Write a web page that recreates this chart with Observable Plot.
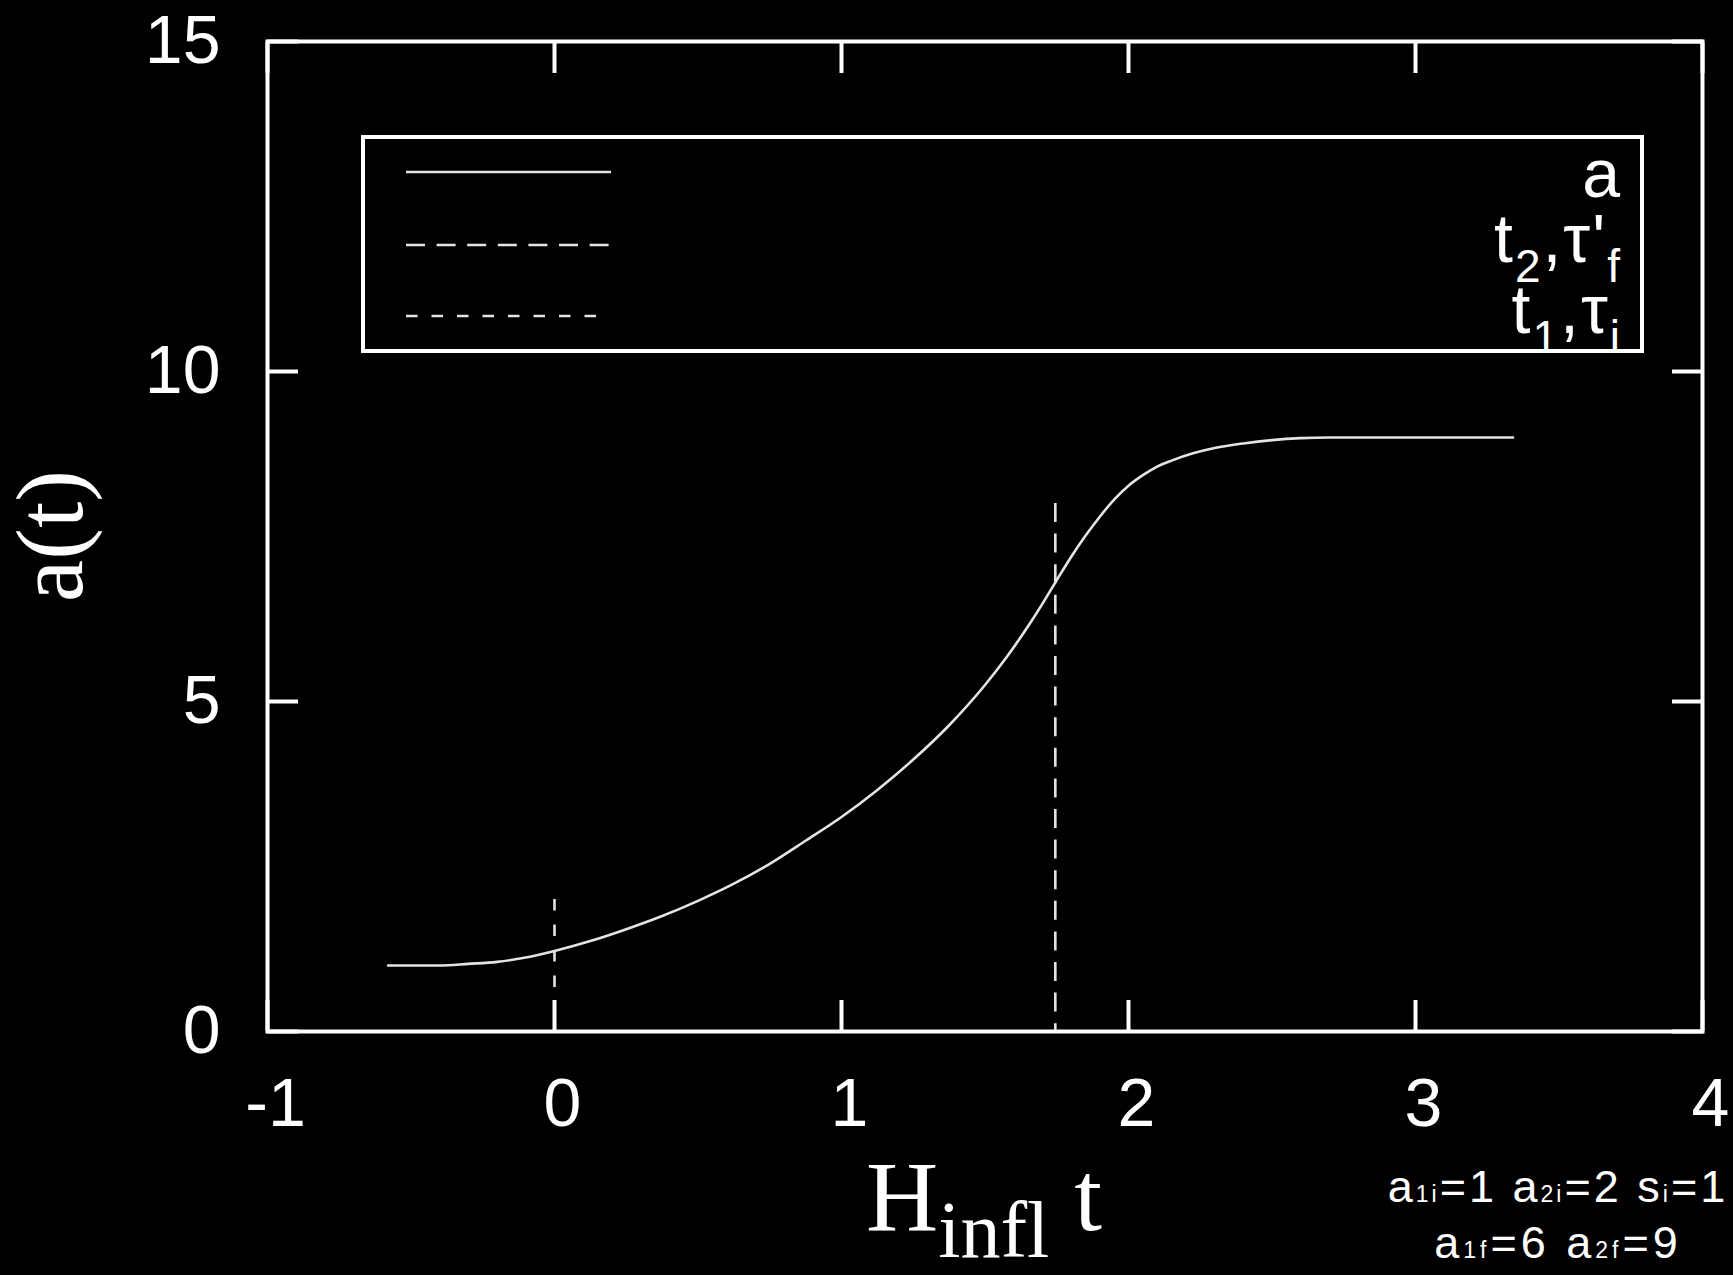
<!DOCTYPE html>
<html><head><meta charset="utf-8">
<script src="https://cdn.jsdelivr.net/npm/d3@7"></script>
<script src="https://cdn.jsdelivr.net/npm/@observablehq/plot@0.6"></script>
<style>
html,body{margin:0;padding:0;background:#000;overflow:hidden;}
</style></head><body>
<div id="chart"></div>
<script>
// ---- data ----
const timeValues = [-0.58, -0.5, -0.4, -0.3, -0.2, -0.1, 0, 0.125, 0.25, 0.375, 0.5, 0.625, 0.75, 0.875, 1.0, 1.125, 1.25, 1.375, 1.5, 1.575, 1.65, 1.7, 1.75, 1.8, 1.85, 1.9, 1.95, 2.0, 2.05, 2.1, 2.15, 2.225, 2.3, 2.4, 2.5, 2.6, 2.7, 2.9, 3.1, 3.34];
const scaleFactorValues = [1.00, 1.00, 1.00, 1.025, 1.055, 1.12, 1.22, 1.37, 1.55, 1.75, 1.98, 2.24, 2.54, 2.89, 3.25, 3.66, 4.12, 4.64, 5.25, 5.67, 6.14, 6.48, 6.84, 7.19, 7.51, 7.80, 8.06, 8.27, 8.43, 8.56, 8.65, 8.76, 8.84, 8.91, 8.96, 8.99, 9.00, 9.00, 9.00, 9.00];
const markerTimes = [0, 1.745];
const markerHeights = [2, 8];
const legendLabels = ["a", "t2,τ'f", "t1,τi"];
const xTicks = [-1, 0, 1, 2, 3, 4];
const yTicks = [0, 5, 10, 15];
const captionLine1 = [["a",""],["1i","s"],["=1 a",""],["2i","s"],["=2 s",""],["i","s"],["=1",""]];
const captionLine2 = [["a",""],["1f","s"],["=6 a",""],["2f","s"],["=9",""]];

const curve = timeValues.map((t, i) => ({t, a: scaleFactorValues[i]}));
const markers = markerTimes.map((t, i) => ({t, top: markerHeights[i]}));

const W = 1733, H = 1275, mL = 267, mR = 31, mT = 41, mB = 244;
const sans = "'Liberation Sans', Arial, Helvetica, sans-serif";
const serif = "'Liberation Serif', 'Times New Roman', serif";
const lineColor = "#e4e4e4";
const dashLong = "19,11.6";
const dashShort = "11.5,14";

const plot = Plot.plot({
  width: W, height: H,
  marginLeft: mL, marginRight: mR, marginTop: mT, marginBottom: mB,
  style: {background: "#000", color: "#fff", fontFamily: sans, fontSize: "68px", overflow: "visible"},
  x: {domain: [-1, 4], axis: null},
  y: {domain: [0, 15], axis: null},
  marks: [
    Plot.line(curve, {x: "t", y: "a", stroke: lineColor, strokeWidth: 2.6, curve: "monotone-x"}),
    Plot.ruleX([markers[0]], {x: "t", y1: "top", y2: 0, stroke: lineColor, strokeWidth: 2.6, strokeDasharray: dashShort}),
    Plot.ruleX([markers[1]], {x: "t", y1: "top", y2: 0, stroke: lineColor, strokeWidth: 2.6, strokeDasharray: dashLong}),
    Plot.axisX(xTicks, {anchor: "bottom", tickSize: -31, strokeWidth: 4, tickFormat: () => "", label: null}),
    Plot.axisX(xTicks, {anchor: "top", tickSize: -31, strokeWidth: 4, tickFormat: () => "", label: null}),
    Plot.axisY(yTicks, {anchor: "left", tickSize: -31, strokeWidth: 4, tickFormat: () => "", label: null}),
    Plot.axisY(yTicks, {anchor: "right", tickSize: -31, strokeWidth: 4, tickFormat: () => "", label: null}),
    Plot.axisX(xTicks, {anchor: "bottom", tickSize: 0, tickPadding: 46, dx: 8, tickFormat: d => String(d), label: null, fontSize: 68}),
    Plot.axisY(yTicks, {anchor: "left", tickSize: 0, tickPadding: 47, tickFormat: d => String(d), label: null, fontSize: 68}),
    Plot.frame({stroke: "#fff", strokeWidth: 4})
  ]
});
document.getElementById("chart").appendChild(plot);

const svg = d3.select(plot);

// ---- legend box ----
const lg = svg.append("g");
lg.append("rect").attr("x", 363).attr("y", 137).attr("width", 1279).attr("height", 214)
  .attr("fill", "#000").attr("stroke", "#fff").attr("stroke-width", 4);
const sampleY = [172, 245, 316];
const sampleDash = [null, dashLong, dashShort];
const sampleEnd = [611, 611, 600];
sampleY.forEach((y, i) => {
  const l = lg.append("line").attr("x1", 406).attr("x2", sampleEnd[i]).attr("y1", y).attr("y2", y)
    .attr("stroke", lineColor).attr("stroke-width", 2.6);
  if (sampleDash[i]) l.attr("stroke-dasharray", sampleDash[i]);
});
const textBase = [197, 262, 333];
function legendText(y, parts) {
  const t = lg.append("text").attr("x", 1622).attr("y", y).attr("text-anchor", "end")
    .attr("fill", "#fff").attr("font-family", sans).attr("font-size", 68)
    .attr("letter-spacing", 2);
  let shifted = 0;
  parts.forEach(([s, kind]) => {
    const sp = t.append("tspan").text(s);
    if (kind === "sub") { sp.attr("font-size", 46).attr("dy", 20 - shifted); shifted = 20; }
    else { if (shifted) sp.attr("dy", -shifted); shifted = 0; }
  });
}
legendText(textBase[0], [[legendLabels[0], ""]]);
legendText(textBase[1], [["t", ""], ["2", "sub"], [",τ'", ""], ["f", "sub"]]);
legendText(textBase[2], [["t", ""], ["1", "sub"], [",τ", ""], ["i", "sub"]]);

// ---- axis titles ----
svg.append("text").attr("transform", "translate(82,536) rotate(-90)")
  .attr("text-anchor", "middle").attr("fill", "#fff")
  .attr("font-family", serif).attr("font-size", 95).text("a(t)");

const xl = svg.append("text").attr("x", 984).attr("y", 1230).attr("text-anchor", "middle")
  .attr("fill", "#fff").attr("font-family", serif).attr("font-size", 100);
xl.append("tspan").text("H");
xl.append("tspan").attr("font-size", 80).attr("dy", 27).text("infl");
xl.append("tspan").attr("dy", -27).text(" t");

// ---- caption ----
function caption(y, parts, spacing) {
  const t = svg.append("text").attr("x", 1558).attr("y", y).attr("text-anchor", "middle")
    .attr("fill", "#fff").attr("font-family", sans).attr("font-size", 45)
    .attr("letter-spacing", spacing);
  parts.forEach(([s, k]) => {
    const sp = t.append("tspan").text(s);
    if (k === "s") sp.attr("font-size", 23);
  });
}
caption(1202, captionLine1, 3);
caption(1258, captionLine2, 4);
</script>
</body></html>
